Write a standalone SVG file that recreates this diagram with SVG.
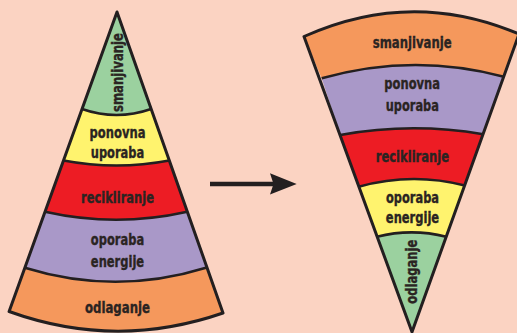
<svg xmlns="http://www.w3.org/2000/svg" width="517" height="333" viewBox="0 0 517 333">
<style>
.bg{fill:#FBD3C2}
.g{fill:#9BD19F}.y{fill:#FFF36E}.r{fill:#ED1C24}.p{fill:#A998C8}.o{fill:#F5985C}
.ln{fill:none;stroke:#231F20;stroke-width:2.6;stroke-linejoin:round}
.ol{fill:none;stroke:#231F20;stroke-width:3;stroke-linejoin:round}
.t{font-family:'DejaVu Sans Condensed','DejaVu Sans',sans-serif;font-stretch:condensed;font-weight:bold;font-size:15.5px;fill:#2A2422;stroke:#2A2422;stroke-width:0.35;text-anchor:middle}
</style>
<rect class="bg" x="0" y="0" width="517" height="333"/>

<g id="left-cone">
  <g id="l-smanjivanje">
    <path class="g" d="M117,12 L82,109 Q116.5,121 151.1,109 Z"/>
    <text class="t" transform="translate(122.5,72.5) rotate(-90)" textLength="79" lengthAdjust="spacingAndGlyphs">smanjivanje</text>
  </g>
  <g id="l-ponovna-uporaba">
    <path class="y" d="M82,109 Q116.5,121 151.1,109 L169.3,160.5 Q116.4,170.5 63.5,160.5 Z"/>
    <text class="t" x="117.5" y="137.5" textLength="56" lengthAdjust="spacingAndGlyphs">ponovna</text>
    <text class="t" x="117.5" y="158" textLength="53.5" lengthAdjust="spacingAndGlyphs">uporaba</text>
  </g>
  <g id="l-recikliranje">
    <path class="r" d="M63.5,160.5 Q116.4,170.5 169.3,160.5 L187.3,211.7 Q116.2,227.7 45,211.7 Z"/>
    <text class="t" x="117.5" y="203.3" textLength="73" lengthAdjust="spacingAndGlyphs">recikliranje</text>
  </g>
  <g id="l-oporaba-energije">
    <path class="p" d="M45,211.7 Q116.2,227.7 187.3,211.7 L206,267.7 Q115.4,295.7 24.8,267.7 Z"/>
    <text class="t" x="117.5" y="245" textLength="53.3" lengthAdjust="spacingAndGlyphs">oporaba</text>
    <text class="t" x="117.5" y="267.3" textLength="53.3" lengthAdjust="spacingAndGlyphs">energije</text>
  </g>
  <g id="l-odlaganje">
    <path class="o" d="M24.8,267.7 Q115.4,295.7 206,267.7 L223,313 Q116,350 9.1,311.5 Z"/>
    <text class="t" x="117.5" y="313.3" textLength="65" lengthAdjust="spacingAndGlyphs">odlaganje</text>
  </g>
  <path class="ln" d="M82,109 Q116.5,121 151.1,109 M63.5,160.5 Q116.4,170.5 169.3,160.5 M45,211.7 Q116.2,227.7 187.3,211.7 M24.8,267.7 Q115.4,295.7 206,267.7"/>
  <path class="ol" d="M117,12 L223,313 Q116,350 9.1,311.5 Z"/>
</g>

<g id="right-funnel">
  <g id="r-smanjivanje">
    <path class="o" d="M304,36.5 Q411.5,-11.9 519,34 L503.9,76.7 Q412.8,52.5 321.7,78.3 Z"/>
    <text class="t" x="412.2" y="47.7" textLength="79" lengthAdjust="spacingAndGlyphs">smanjivanje</text>
  </g>
  <g id="r-ponovna-uporaba">
    <path class="p" d="M321.7,78.3 Q412.8,52.5 503.9,76.7 L483.2,134.3 Q411.7,122 340.2,135 Z"/>
    <text class="t" x="412.2" y="89.3" textLength="55.7" lengthAdjust="spacingAndGlyphs">ponovna</text>
    <text class="t" x="412.3" y="111" textLength="53.3" lengthAdjust="spacingAndGlyphs">uporaba</text>
  </g>
  <g id="r-recikliranje">
    <path class="r" d="M340.2,135 Q411.7,122 483.2,134.3 L464.9,185.5 Q411.8,171.9 358.7,186.7 Z"/>
    <text class="t" x="412.4" y="161.7" textLength="73.3" lengthAdjust="spacingAndGlyphs">recikliranje</text>
  </g>
  <g id="r-oporaba-energije">
    <path class="y" d="M358.7,186.7 Q411.8,171.9 464.9,185.5 L446.3,236.7 Q411.6,228 376.9,236.7 Z"/>
    <text class="t" x="412.5" y="202.7" textLength="53" lengthAdjust="spacingAndGlyphs">oporaba</text>
    <text class="t" x="412.5" y="223.3" textLength="53.3" lengthAdjust="spacingAndGlyphs">energije</text>
  </g>
  <g id="r-odlaganje">
    <path class="g" d="M376.9,236.7 Q411.6,228 446.3,236.7 L412,332 Z"/>
    <text class="t" transform="translate(417,271.7) rotate(-90)" textLength="64" lengthAdjust="spacingAndGlyphs">odlaganje</text>
  </g>
  <path class="ln" d="M321.7,78.3 Q412.8,52.5 503.9,76.7 M340.2,135 Q411.7,122 483.2,134.3 M358.7,186.7 Q411.8,171.9 464.9,185.5 M376.9,236.7 Q411.6,228 446.3,236.7"/>
  <path class="ol" d="M304,36.5 Q411.5,-11.9 519,34 L412,332 Z"/>
</g>

<g id="connectors">
  <line x1="210" y1="184" x2="274" y2="184" stroke="#231F20" stroke-width="4.7"/>
  <polygon points="270,173.3 296.7,184 270,194.5 273.5,184" fill="#231F20"/>
</g>
</svg>
